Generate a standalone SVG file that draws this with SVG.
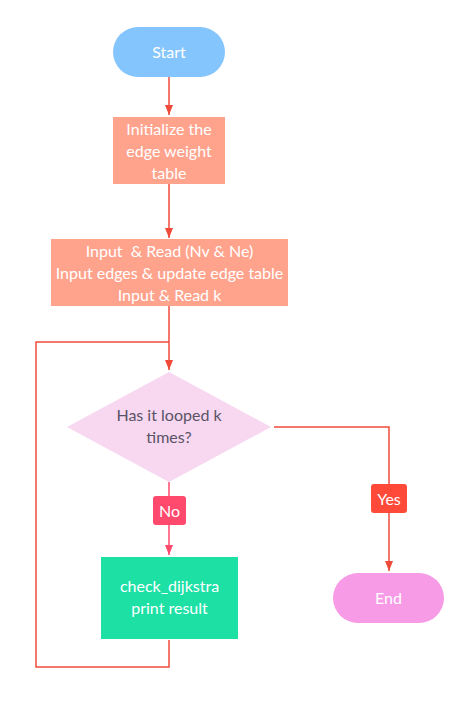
<svg xmlns="http://www.w3.org/2000/svg" width="476" height="705" viewBox="0 0 476 705">
<defs>
<marker id="ah" markerWidth="10" markerHeight="8" refX="10" refY="4" orient="auto" markerUnits="userSpaceOnUse">
<path d="M0,0 L10,4 L0,8 Z" fill="#F04B3A"/>
</marker>
<marker id="ahn" markerWidth="10" markerHeight="8" refX="10" refY="4" orient="auto" markerUnits="userSpaceOnUse">
<path d="M0,0 L10,4 L0,8 Z" fill="#FF4A6E"/>
</marker>
</defs>
<style>
text { font-family: Lato, "Liberation Sans", sans-serif; font-size: 16px; text-anchor: middle; dominant-baseline: central; white-space: pre; }
.w { fill: #FFFFFF; }
.d { fill: #5A5366; }
.c { fill: none; stroke: #F04B3A; stroke-width: 1.5; }
.cn { fill: none; stroke: #FF4A6E; stroke-width: 1.5; }
</style>
<rect width="476" height="705" fill="#FFFFFF"/>
<g id="connectors">
<path class="c" d="M169,77 V115" marker-end="url(#ah)"/>
<path class="c" d="M169,184 V238" marker-end="url(#ah)"/>
<path class="c" d="M169,306 V370" marker-end="url(#ah)"/>
<path class="c" d="M169,640 V667 H36 V342 H169"/>
<path class="c" d="M274,427 H389 V571" marker-end="url(#ah)"/>
<path class="cn" d="M169,482 V555" marker-end="url(#ahn)"/>
</g>
<g id="start">
<rect x="113" y="27" width="112" height="50" rx="25" fill="#85C5FD"/>
<text class="w" x="169" y="51">Start</text>
</g>
<g id="init">
<rect x="113" y="117" width="112" height="67" fill="#FFA38D"/>
<text class="w" x="169" y="128">Initialize the</text>
<text class="w" x="169" y="150">edge weight</text>
<text class="w" x="169" y="172">table</text>
</g>
<g id="input">
<rect x="51" y="239" width="237" height="67" fill="#FFA38D"/>
<text class="w" x="169.5" y="250" xml:space="preserve">Input  &amp; Read (Nv &amp; Ne)</text>
<text class="w" x="169.5" y="272">Input edges &amp; update edge table</text>
<text class="w" x="169.5" y="294">Input &amp; Read k</text>
</g>
<g id="decision">
<polygon points="169,372 271,427 169,482 67,427" fill="#F8D7F0"/>
<text class="d" x="169" y="414">Has it looped k</text>
<text class="d" x="169" y="436">times?</text>
</g>
<g id="label-no">
<rect x="153" y="496" width="33" height="29" rx="3" fill="#FF4A6E"/>
<text class="w" x="169.5" y="510">No</text>
</g>
<g id="label-yes">
<rect x="371" y="484" width="36" height="29" rx="3" fill="#FF4A3A"/>
<text class="w" x="389" y="498">Yes</text>
</g>
<g id="process">
<rect x="101" y="557" width="137" height="82" fill="#1DE0A5"/>
<text class="w" x="169.5" y="585">check_dijkstra</text>
<text class="w" x="169.5" y="607">print result</text>
</g>
<g id="end">
<rect x="333" y="573" width="111" height="50" rx="25" fill="#F79BE6"/>
<text class="w" x="388.5" y="597">End</text>
</g>
</svg>
